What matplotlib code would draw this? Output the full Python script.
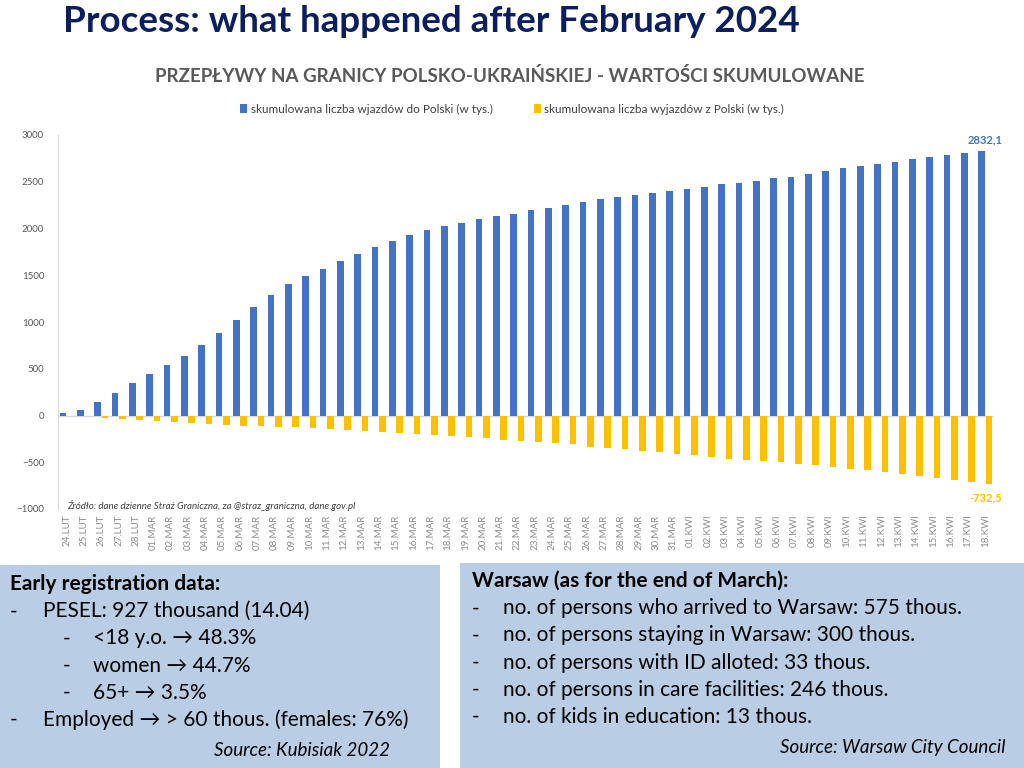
import numpy as np
import matplotlib.pyplot as plt
from matplotlib.patches import Rectangle

# ------------------------------------------------------------
# Data (thousands, cumulative)
# ------------------------------------------------------------
dates = (['24.LUT', '25.LUT', '26.LUT', '27.LUT', '28.LUT']
         + [f'{d:02d}.MAR' for d in range(1, 32)]
         + [f'{d:02d}.KWI' for d in range(1, 19)])

entries = [25, 64, 146, 245, 348, 448, 540, 640, 750, 882,
           1020, 1163, 1287, 1404, 1497, 1564, 1650, 1731, 1799, 1870,
           1930, 1980, 2023, 2058, 2101, 2129, 2160, 2193, 2222, 2250,
           2282, 2311, 2332, 2353, 2385, 2403, 2424, 2446, 2474, 2485,
           2503, 2535, 2556, 2588, 2616, 2645, 2666, 2688, 2716, 2748,
           2769, 2787, 2808, 2832.1]

exits = [-2, -10, -25, -33, -44, -55, -66, -77, -87, -97,
         -107, -111, -121, -127, -138, -148, -156, -164, -177, -187,
         -198, -206, -216, -226, -245, -260, -272, -283, -295, -303,
         -342, -352, -360, -380, -388, -408, -419, -440, -464, -472,
         -482, -499, -520, -531, -548, -569, -587, -608, -629, -650,
         -671, -695, -716, -732.5]

legend_labels = ['skumulowana liczba wjazdów do Polski (w tys.)',
                 'skumulowana liczba wyjazdów z Polski (w tys.)']

left_box = [
    ('Early registration data:', 0, True),
    ('PESEL: 927 thousand (14.04)', 1, False),
    ('<18 y.o. → 48.3%', 2, False),
    ('women → 44.7%', 2, False),
    ('65+ → 3.5%', 2, False),
    ('Employed → > 60 thous. (females: 76%)', 1, False),
]
right_box = [
    ('Warsaw (as for the end of March):', 0, True),
    ('no. of persons who arrived to Warsaw: 575 thous.', 1, False),
    ('no. of persons staying in Warsaw: 300 thous.', 1, False),
    ('no. of persons with ID alloted: 33 thous.', 1, False),
    ('no. of persons in care facilities: 246 thous.', 1, False),
    ('no. of kids in education: 13 thous.', 1, False),
]

BLUE = '#4472C4'
YELLOW = '#FFC000'
FONT = ['Lato', 'DejaVu Sans']

plt.rcParams['font.family'] = FONT

fig = plt.figure(figsize=(10.24, 7.68), dpi=100)
W, H = 1024, 768


def fx(px):
    return px / W


def fy(py):
    return 1 - py / H


# slide title
fig.text(fx(63), fy(22), 'Process: what happened after February 2024',
         fontsize=26.5, fontweight='bold', color='#0b1f5e', va='center', ha='left')

# chart title + legend
fig.text(fx(510), fy(76), 'PRZEPŁYWY NA GRANICY POLSKO-UKRAIŃSKIEJ - WARTOŚCI SKUMULOWANE',
         fontsize=13.5, fontweight='bold', color='#595959', va='center', ha='center')

# ------------------------------------------------------------
# Bar chart
# ------------------------------------------------------------
ax = fig.add_axes([fx(58), fy(509), fx(994) - fx(58), fy(135) - fy(509)])
x = np.arange(len(dates))
ax.bar(x - 0.21, entries, width=0.4, color=BLUE, label=legend_labels[0])
ax.bar(x + 0.21, exits, width=0.4, color=YELLOW, label=legend_labels[1])

ax.set_xlim(-0.5, len(dates) - 0.5)
ax.set_ylim(-1000, 3000)
ax.set_yticks(range(-1000, 3001, 500))
ax.tick_params(axis='y', length=0, labelsize=7, labelcolor='#595959', pad=10)
ax.set_xticks(x)
ax.set_xticklabels(dates, rotation=90, fontsize=7, color='#8c8c8c')
ax.tick_params(axis='x', length=0, pad=4)
for s in ['top', 'right', 'bottom']:
    ax.spines[s].set_visible(False)
ax.spines['left'].set_color('#d9d9d9')
ax.axhline(0, color='#d9d9d9', linewidth=1, zorder=0)

ax.text(x[-1], entries[-1] + 60, f'{entries[-1]:.1f}'.replace('.', ','),
        color=BLUE, fontsize=8, fontweight='bold', ha='center', va='bottom')
ax.text(x[-1], exits[-1] - 90, f'{exits[-1]:.1f}'.replace('.', ','),
        color=YELLOW, fontsize=8, fontweight='bold', ha='center', va='top')

ax.text(0.0, -960, 'Źródło: dane dzienne Straż Graniczna, za @straz_graniczna, dane.gov.pl',
        fontsize=7, style='italic', color='#404040', ha='left', va='center')

fig.legend(loc='center', bbox_to_anchor=(fx(512), fy(109)), ncol=2, frameon=False,
           fontsize=8.5, handlelength=0.6, handleheight=0.9, handletextpad=0.3,
           columnspacing=3.5, labelcolor='#404040')

# ------------------------------------------------------------
# Bottom info boxes
# ------------------------------------------------------------
BOX = '#b9cde5'
fig.add_artist(Rectangle((0, 0), fx(440), fy(565), transform=fig.transFigure,
                         facecolor=BOX, edgecolor='none'))
fig.add_artist(Rectangle((fx(460), 0), fx(1024) - fx(460), fy(563), transform=fig.transFigure,
                         facecolor=BOX, edgecolor='none'))

FS = 15


def draw_box(lines, x0, y0, step, dash_x, text_x, sub_dash_x, sub_text_x):
    for i, (txt, level, bold) in enumerate(lines):
        y = fy(y0 + i * step)
        if level == 0:
            fig.text(fx(x0), y, txt, fontsize=FS, fontweight='bold', color='black', va='center')
        elif level == 1:
            fig.text(fx(dash_x), y, '-', fontsize=FS, color='black', va='center')
            fig.text(fx(text_x), y, txt, fontsize=FS, color='black', va='center')
        else:
            fig.text(fx(sub_dash_x), y, '-', fontsize=FS, color='black', va='center')
            fig.text(fx(sub_text_x), y, txt, fontsize=FS, color='black', va='center')


draw_box(left_box, 10, 584, 27.2, 10, 43, 63, 93)
draw_box(right_box, 472, 581, 27.2, 472, 503, 0, 0)

fig.text(fx(390), fy(750), 'Source: Kubisiak 2022', fontsize=13.5, style='italic',
         color='black', ha='right', va='center')
fig.text(fx(1006), fy(748), 'Source: Warsaw City Council', fontsize=13.5, style='italic',
         color='black', ha='right', va='center')

fig.savefig('out.png', dpi=100)
